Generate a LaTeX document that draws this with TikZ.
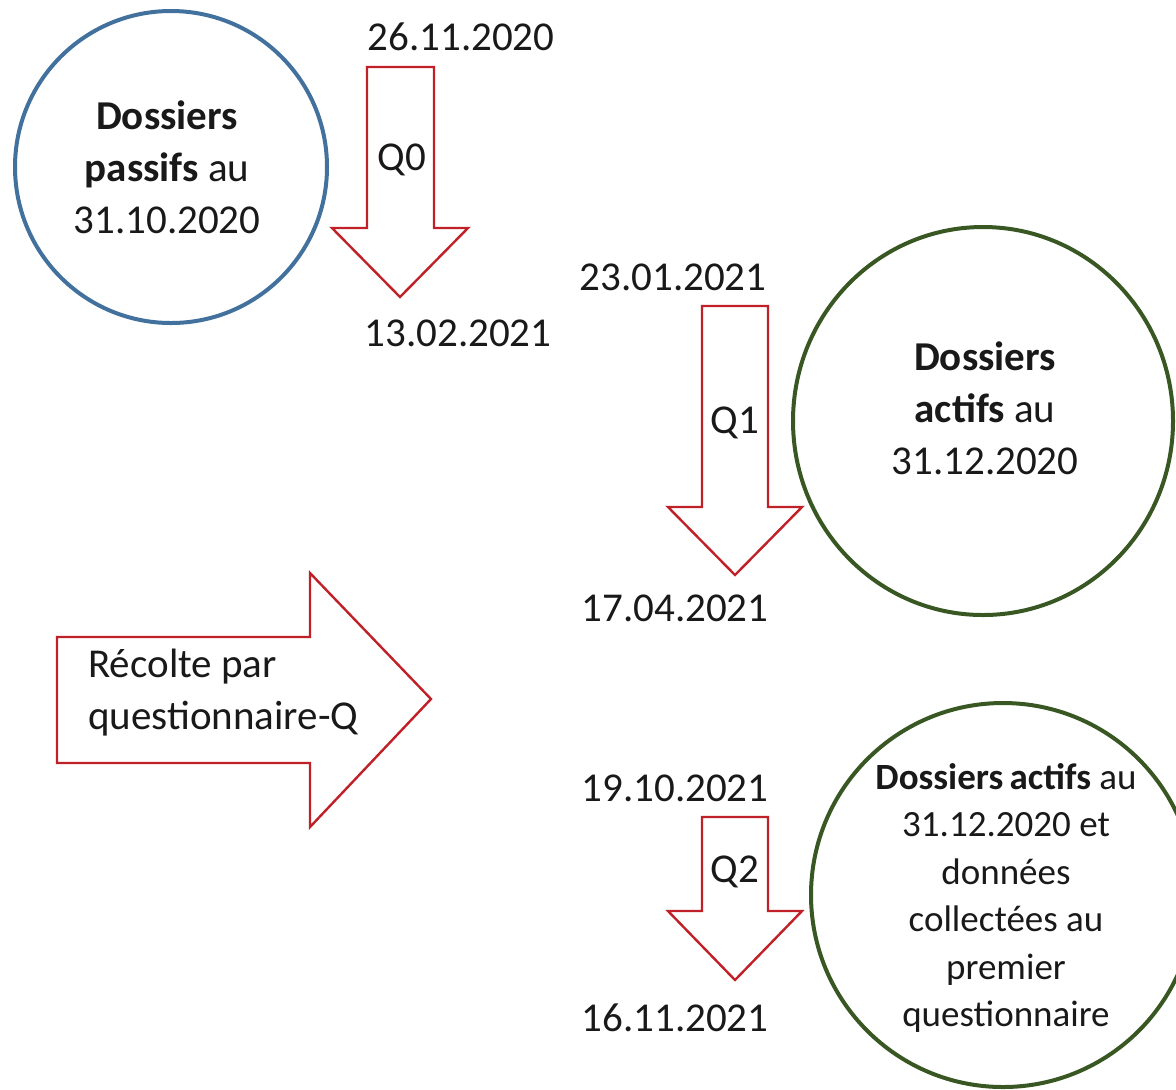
\documentclass[tikz,border=0pt]{standalone}
\usepackage{fontspec}
\setmainfont{Carlito}
\usetikzlibrary{shapes.geometric}
\definecolor{bluec}{RGB}{65,113,156}
\definecolor{greenc}{RGB}{56,87,35}
\definecolor{redc}{RGB}{192,32,40}
\begin{document}
\begin{tikzpicture}[x=0.5pt,y=-0.5pt,
  circ/.style={ellipse, draw, line width=2pt, inner sep=0pt},
  arr/.style={draw=redc, line width=1.2pt, line join=miter, fill=white},
  lbl/.style={font=\fontsize{20.5pt}{26pt}\selectfont, inner sep=0pt, text=black!90, align=center},
  smalllbl/.style={font=\fontsize{18.5pt}{23.75pt}\selectfont, inner sep=0pt, text=black!90, align=center},
]
\useasboundingbox (0,0) rectangle (1176,1089);
\clip (0,0) rectangle (1176,1089);

% circles
\node[circ, draw=bluec, minimum width=156pt, minimum height=156pt] (passif) at (171,167) {};
\node[circ, draw=greenc, minimum width=190pt, minimum height=194pt] (actif) at (983,421) {};
\node[circ, draw=greenc, minimum width=192pt, minimum height=192pt] (actif2) at (1003,895) {};

\node[lbl] (tpassif) at (167,167) {\textbf{Dossiers}\\\textbf{passifs} au\\31.10.2020};
\node[lbl] (tactif) at (985,408) {\textbf{Dossiers}\\\textbf{actifs} au\\31.12.2020};
\node[smalllbl] (tactif2) at (1006,898) {\textbf{Dossiers\,actifs} au\\31.12.2020 et\\données\\collectées au\\premier\\questionnaire};

% arrows
\draw[arr] (367,67) -- (434,67) -- (434,228) -- (468,228) -- (400,297) -- (332,228) -- (367,228) -- cycle;
\draw[arr] (702,306) -- (768,306) -- (768,507) -- (802,507) -- (735,575) -- (668,507) -- (702,507) -- cycle;
\draw[arr] (702,817) -- (768,817) -- (768,911) -- (802,911) -- (735,980) -- (668,911) -- (702,911) -- cycle;
\draw[arr] (57,637) -- (310,637) -- (310,573) -- (431,699) -- (310,827) -- (310,763) -- (57,763) -- cycle;

\node[lbl] (q0) at (402,160) {Q0};
\node[lbl] (q1) at (735,423) {Q1};
\node[lbl] (q2) at (735,872) {Q2};
\node[lbl, anchor=west, align=left] (recolte) at (88,693) {Récolte par\\questionnaire-Q};

% dates
\node[lbl] (d1) at (461,37) {26.11.2020};
\node[lbl] (d2) at (458,333) {13.02.2021};
\node[lbl] (d3) at (673,277) {23.01.2021};
\node[lbl] (d4) at (675,608) {17.04.2021};
\node[lbl] (d5) at (675,788) {19.10.2021};
\node[lbl] (d6) at (675,1018) {16.11.2021};
\end{tikzpicture}
\end{document}
